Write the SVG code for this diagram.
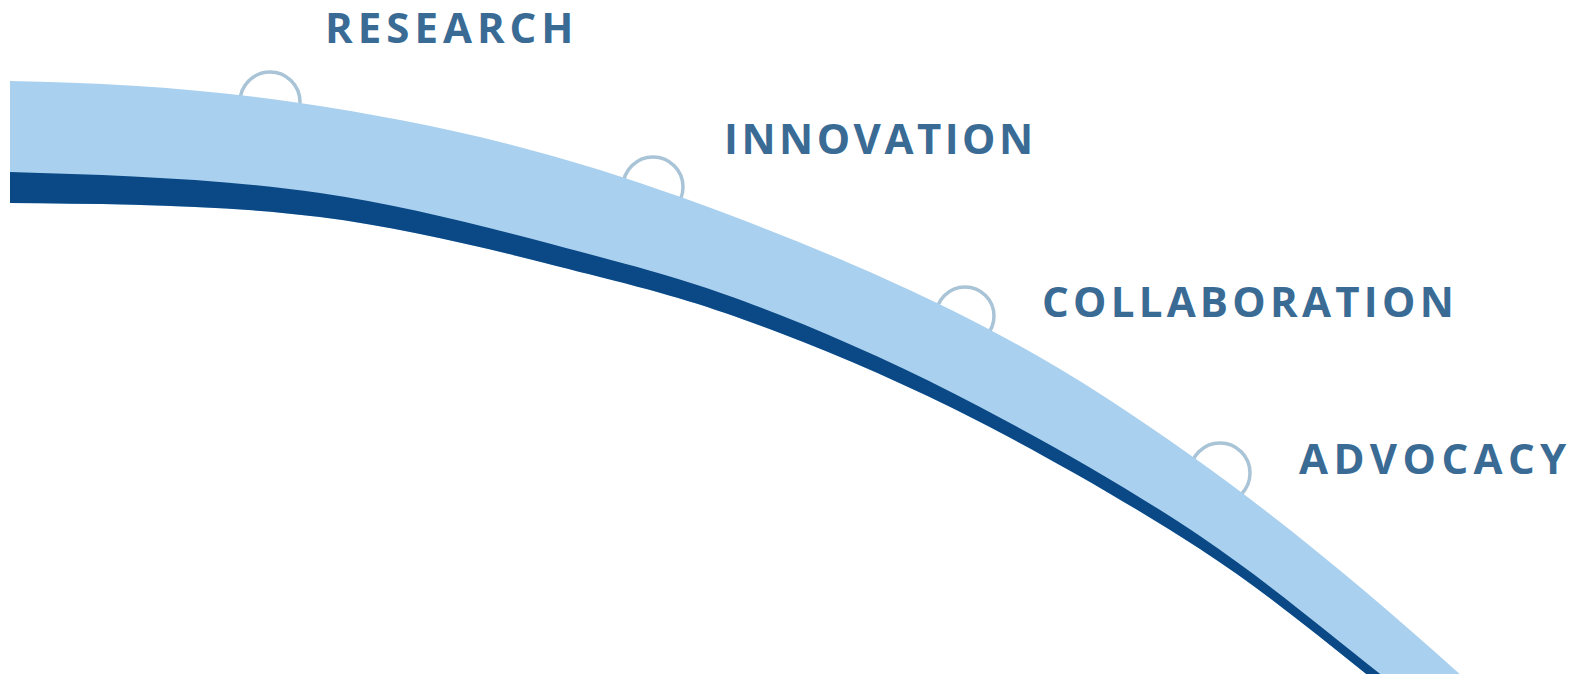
<svg xmlns="http://www.w3.org/2000/svg" width="1577" height="674" viewBox="0 0 1577 674">
  <style>
    .ring { fill: none; stroke: #a9c4d6; stroke-width: 3.5; }
    .label { font-family: "Open Sans", "Liberation Sans", sans-serif; font-weight: 700; font-size: 42px; fill: #3a6b95; }
    .light { fill: #a9d0ee; }
    .dark { fill: #0a4886; }
  </style>
  <rect width="1577" height="674" fill="#ffffff"/>
  <g id="research">
    <circle class="ring" cx="270" cy="102" r="30"/>
    <text class="label" x="325" y="43" letter-spacing="5">RESEARCH</text>
  </g>
  <g id="innovation">
    <circle class="ring" cx="653" cy="187" r="30"/>
    <text class="label" x="724" y="154" letter-spacing="3.5">INNOVATION</text>
  </g>
  <g id="collaboration">
    <circle class="ring" cx="965" cy="316" r="29"/>
    <text class="label" x="1042" y="317" letter-spacing="4.25">COLLABORATION</text>
  </g>
  <g id="advocacy">
    <circle class="ring" cx="1220" cy="473" r="30"/>
    <text class="label" x="1299" y="474" letter-spacing="5.4">ADVOCACY</text>
  </g>
  <g id="band">
    <path class="light" d="M10,81 C107,83 201.7,88.2 300,103 C398.3,117.8 493.8,136.7 600,170 C706.2,203.3 838.2,255.2 937,303 C1035.8,350.8 1105.8,395.2 1193,457 C1280.2,518.8 1371,594 1463,677 L1370,677 C1316,634 1265,591.3 1200,549 C1135,506.7 1050,458 980,422 C910,386 843.3,357.2 780,333 C716.7,308.8 676.7,296.3 600,277 C523.3,257.7 418.3,229.3 320,217 C221.7,204.7 113,204 10,203 Z"/>
    <path class="dark" d="M10,172 C113,175 221.7,178.8 320,193 C418.3,207.2 523.3,236.7 600,257 C676.7,277.3 716.7,290 780,315 C843.3,340 910,370.2 980,407 C1050,443.8 1133.7,491.2 1200,536 C1266.3,580.8 1327,632 1384,677 L1370,677 C1316,634 1265,591.3 1200,549 C1135,506.7 1050,458 980,422 C910,386 843.3,357.2 780,333 C716.7,308.8 676.7,296.3 600,277 C523.3,257.7 418.3,229.3 320,217 C221.7,204.7 113,204 10,203 Z"/>
  </g>
</svg>
